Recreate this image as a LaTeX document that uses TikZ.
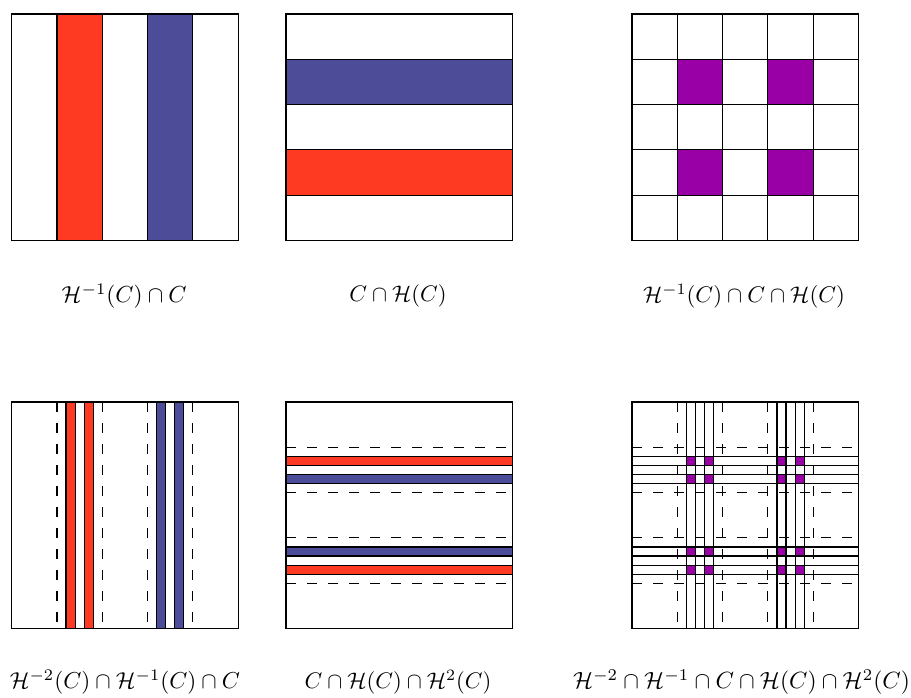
\documentclass[tikz,border=0pt]{standalone}
\usepackage{graphicx}
\definecolor{cred}{RGB}{255,58,34}
\definecolor{cblue}{RGB}{76,76,152}
\definecolor{cpurp}{RGB}{153,0,166}
\newcommand{\fitlbl}[2]{\resizebox{#1}{!}{$#2$}}
\begin{document}
\begin{tikzpicture}[x=0.3472pt,y=-0.3472pt,
  edge/.style={draw=black, line width=0.4pt},
  dsh/.style={draw=black, line width=0.4pt, dash pattern=on 3.5pt off 3.8pt},
  lbl/.style={inner sep=0pt}]
\useasboundingbox (0,0) rectangle (911,698);
\def\S{226.5}
\pgfmathsetmacro\F{\S/5}
\pgfmathsetmacro\G{\S/25}
% ---------- top row ----------
\begin{scope}[shift={(11.7,14)}]
  \filldraw[edge, fill=cred] (\F,0) rectangle (2*\F,\S);
  \filldraw[edge, fill=cblue] (3*\F,0) rectangle (4*\F,\S);
  \draw[edge] (0,0) rectangle (\S,\S);
\end{scope}
\begin{scope}[shift={(286,14)}]
  \filldraw[edge, fill=cblue] (0,\F) rectangle (\S,2*\F);
  \filldraw[edge, fill=cred] (0,3*\F) rectangle (\S,4*\F);
  \draw[edge] (0,0) rectangle (\S,\S);
\end{scope}
\begin{scope}[shift={(632,14)}]
  \foreach \a in {1,3}{\foreach \b in {1,3}{
    \fill[cpurp] (\a*\F,\b*\F) rectangle ({(\a+1)*\F},{(\b+1)*\F});}}
  \foreach \i in {1,...,4}{
    \draw[edge] (\i*\F,0) -- (\i*\F,\S);
    \draw[edge] (0,\i*\F) -- (\S,\i*\F);}
  \draw[edge] (0,0) rectangle (\S,\S);
\end{scope}
% ---------- bottom row ----------
\begin{scope}[shift={(11.7,402)}]
  \foreach \i in {1,...,4}{\draw[dsh] (\i*\F,0) -- (\i*\F,\S);}
  \foreach \o in {1,3}{
    \filldraw[edge, fill=cred] ({\F+\o*\G},0) rectangle ({\F+(\o+1)*\G},\S);
    \filldraw[edge, fill=cblue] ({3*\F+\o*\G},0) rectangle ({3*\F+(\o+1)*\G},\S);}
  \draw[edge] (0,0) rectangle (\S,\S);
\end{scope}
\begin{scope}[shift={(286,402)}]
  \foreach \i in {1,...,4}{\draw[dsh] (0,\i*\F) -- (\S,\i*\F);}
  \filldraw[edge, fill=cred] (0,{\F+\G}) rectangle (\S,{\F+2*\G});
  \filldraw[edge, fill=cblue] (0,{\F+3*\G}) rectangle (\S,{\F+4*\G});
  \filldraw[edge, fill=cblue] (0,{3*\F+\G}) rectangle (\S,{3*\F+2*\G});
  \filldraw[edge, fill=cred] (0,{3*\F+3*\G}) rectangle (\S,{3*\F+4*\G});
  \draw[edge] (0,0) rectangle (\S,\S);
\end{scope}
\begin{scope}[shift={(632,402)}]
  \foreach \a in {1,3}{\foreach \b in {1,3}{
    \foreach \p in {1,3}{\foreach \q in {1,3}{
      \fill[cpurp] ({\a*\F+\p*\G},{\b*\F+\q*\G}) rectangle ({\a*\F+(\p+1)*\G},{\b*\F+(\q+1)*\G});}}}}
  \foreach \i in {1,...,4}{
    \draw[dsh] (\i*\F,0) -- (\i*\F,\S);
    \draw[dsh] (0,\i*\F) -- (\S,\i*\F);}
  \foreach \a in {1,3}{\foreach \k in {1,...,4}{
    \draw[edge] ({\a*\F+\k*\G},0) -- ({\a*\F+\k*\G},\S);
    \draw[edge] (0,{\a*\F+\k*\G}) -- (\S,{\a*\F+\k*\G});}}
  \draw[edge] (0,0) rectangle (\S,\S);
\end{scope}
% ---------- labels ----------
\node[lbl] (l1) at (124.2,296) {\fitlbl{43.4pt}{\mathcal{H}^{-1}(C)\cap C}};
\node[lbl] (l2) at (398,296) {\fitlbl{33.7pt}{C\cap\mathcal{H}(C)}};
\node[lbl] (l3) at (744,296) {\fitlbl{70.1pt}{\mathcal{H}^{-1}(C)\cap C\cap\mathcal{H}(C)}};
\node[lbl] (l4) at (125,682) {\fitlbl{79.9pt}{\mathcal{H}^{-2}(C)\cap\mathcal{H}^{-1}(C)\cap C}};
\node[lbl] (l5) at (398,682) {\fitlbl{64.9pt}{C\cap\mathcal{H}(C)\cap\mathcal{H}^{2}(C)}};
\node[lbl] (l6) at (741.5,682) {\fitlbl{117pt}{\mathcal{H}^{-2}\cap\mathcal{H}^{-1}\cap C\cap\mathcal{H}(C)\cap\mathcal{H}^{2}(C)}};
\end{tikzpicture}
\end{document}
